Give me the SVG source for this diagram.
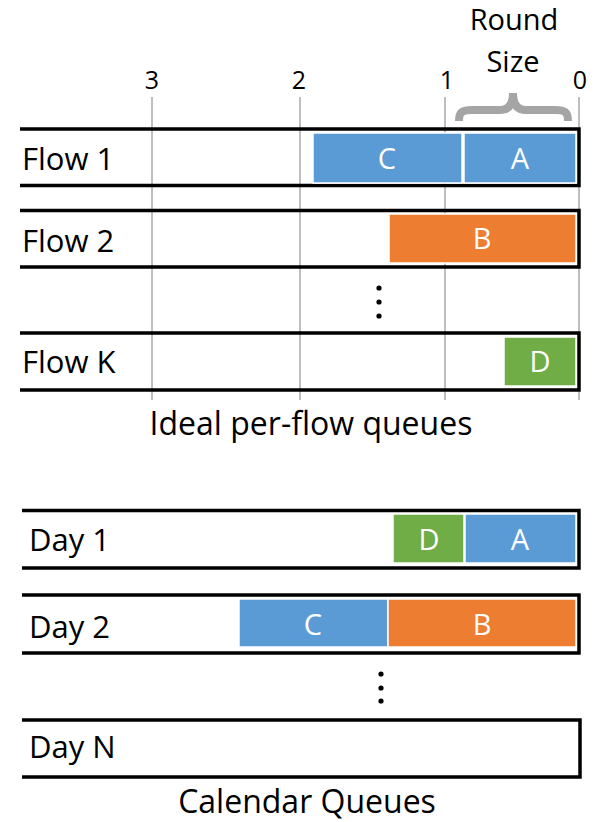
<svg xmlns="http://www.w3.org/2000/svg" width="596" height="822" viewBox="0 0 596 822">
  <style>
    text { font-family: "Open Sans", "Liberation Sans", sans-serif; fill: #000; }
    .lbl { font-size: 31px; }
    .num { font-size: 25px; text-anchor: middle; }
    .cap { font-size: 29px; text-anchor: middle; }
    .title { font-size: 32px; text-anchor: middle; }
    .pkt { font-size: 29px; fill: #fff; text-anchor: middle; }
    .queue { fill: none; stroke: #000; stroke-width: 3.5; stroke-linejoin: miter; }
    .grid { stroke: #7f7f7f; stroke-width: 1; }
    .blue { fill: #5b9bd5; stroke: #fff; stroke-width: 1.5; }
    .orange { fill: #ed7d31; stroke: #fff; stroke-width: 1.5; }
    .green { fill: #70ad47; stroke: #fff; stroke-width: 1.5; }
    .dot { fill: #000; }
  </style>
  <rect width="596" height="822" fill="#fff"/>

  <!-- round axis -->
  <g id="axis">
    <line class="grid" x1="152" y1="97" x2="152" y2="400"/>
    <line class="grid" x1="300" y1="97" x2="300" y2="400"/>
    <line class="grid" x1="445" y1="97" x2="445" y2="400"/>
    <line class="grid" x1="579" y1="97" x2="579" y2="400"/>
    <text class="num" x="152" y="89">3</text>
    <text class="num" x="299" y="89">2</text>
    <text class="num" x="447" y="89">1</text>
    <text class="num" x="580" y="89">0</text>
  </g>

  <g id="round-size">
    <path d="M459 121 C459 112 462 110 472 110 L500 110 C509 110 513 104 513 93 C513 104 517 110 526 110 L555 110 C565 110 568 112 568 121" fill="none" stroke="#a5a5a5" stroke-width="8"/>
    <text class="cap" x="514" y="30">Round</text>
    <text class="cap" x="513" y="72">Size</text>
  </g>

  <!-- per-flow queues -->
  <g id="flow-1">
    <path class="queue" d="M20 129 H579 V185.5 H20"/>
    <text class="lbl" x="22" y="170">Flow 1</text>
    <rect class="blue" x="313" y="133" width="149" height="50"/>
    <text class="pkt" x="387" y="169">C</text>
    <rect class="blue" x="464" y="133" width="112" height="50"/>
    <text class="pkt" x="520" y="169">A</text>
  </g>
  <g id="flow-2">
    <path class="queue" d="M20 210.5 H579 V267 H20"/>
    <text class="lbl" x="22" y="252">Flow 2</text>
    <rect class="orange" x="389" y="214" width="187" height="49"/>
    <text class="pkt" x="482" y="249">B</text>
  </g>
  <g id="flow-ellipsis">
    <circle class="dot" cx="379" cy="288" r="2.6"/>
    <circle class="dot" cx="379" cy="302" r="2.6"/>
    <circle class="dot" cx="379" cy="316" r="2.6"/>
  </g>
  <g id="flow-k">
    <path class="queue" d="M20 333 H579 V390 H20"/>
    <text class="lbl" x="22" y="373">Flow K</text>
    <rect class="green" x="504" y="337" width="72" height="49"/>
    <text class="pkt" x="540" y="372">D</text>
  </g>
  <text class="title" x="311" y="435">Ideal per-flow queues</text>

  <!-- calendar queues -->
  <g id="day-1">
    <path class="queue" d="M22 510.5 H579 V568 H22"/>
    <text class="lbl" x="29" y="551">Day 1</text>
    <rect class="green" x="393" y="514" width="71" height="49"/>
    <text class="pkt" x="429" y="550">D</text>
    <rect class="blue" x="465" y="514" width="111" height="49"/>
    <text class="pkt" x="520" y="550">A</text>
  </g>
  <g id="day-2">
    <path class="queue" d="M22 595 H579 V653 H22"/>
    <text class="lbl" x="29" y="638">Day 2</text>
    <rect class="blue" x="239" y="599" width="149" height="48"/>
    <text class="pkt" x="313" y="635">C</text>
    <rect class="orange" x="388" y="599" width="188" height="48"/>
    <text class="pkt" x="482" y="635">B</text>
  </g>
  <g id="day-ellipsis">
    <circle class="dot" cx="381" cy="674" r="2.6"/>
    <circle class="dot" cx="381" cy="688" r="2.6"/>
    <circle class="dot" cx="381" cy="701" r="2.6"/>
  </g>
  <g id="day-n">
    <path class="queue" d="M22 720 H580 V777 H22"/>
    <text class="lbl" x="29" y="758">Day N</text>
  </g>
  <text class="title" x="307" y="813">Calendar Queues</text>
</svg>
